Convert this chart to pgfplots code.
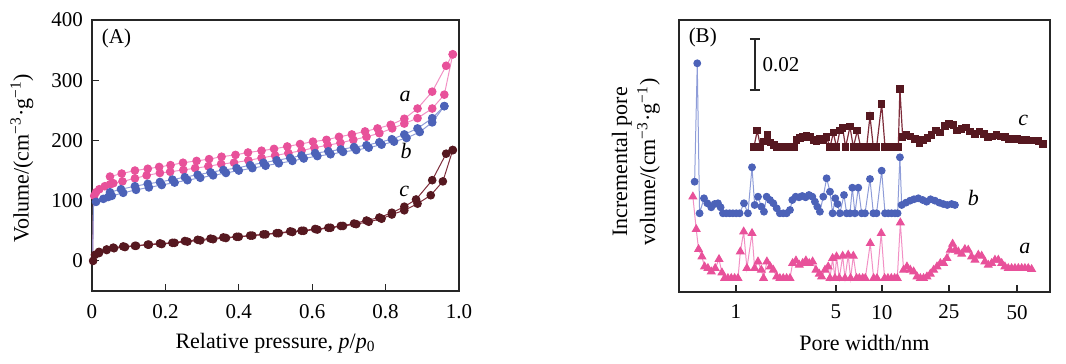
\documentclass[border=0pt]{standalone}
\usepackage{fontspec}
\setmainfont{Liberation Serif}
\usepackage{pgfplots}
\pgfplotsset{compat=1.18}
\definecolor{cA}{HTML}{E8519A}
\definecolor{cAl}{HTML}{F290C4}
\definecolor{cB}{HTML}{4C62B8}
\definecolor{cBl}{HTML}{8E9CD8}
\definecolor{cC}{HTML}{561820}
\definecolor{cCl}{HTML}{7E2C3A}
\begin{document}
\begin{tikzpicture}
\path[use as bounding box] (0,0) rectangle (533pt,182pt);
\pgfplotsset{every axis/.append style={scale only axis,
  font=\fontsize{10.5}{12}\selectfont,
  axis line style={line width=0.7pt, black!85},
  tick align=inside, tick pos=left, major tick length=3.5pt,
  tick style={line width=0.6pt, black!85},
  /pgf/number format/assume math mode=true,
  xticklabel style={yshift=-3pt},
  yticklabel style={xshift=-1pt},
  label style={font=\fontsize{11}{14}\selectfont}}}
% ---------------- Panel A ----------------
\begin{axis}[at={(46pt,36.5pt)}, anchor=south west, width=183.5pt, height=135.5pt,
  xmin=0, xmax=1, ymin=-50, ymax=400,
  xtick={0,0.2,0.4,0.6,0.8,1.0}, xticklabels={0,0.2,0.4,0.6,0.8,1.0},
  ytick={0,100,200,300,400},
  xlabel={Relative pressure, \textit{p}/\textit{p}\textsubscript{0}},
  ylabel={Volume/(cm\textsuperscript{−3}·g\textsuperscript{−1})},
  xlabel style={at={(axis description cs:0.5,-0.192)}, anchor=center},
  ylabel style={at={(axis description cs:-0.191,0.49)}, anchor=center}]
% low-pressure uptake (line only)
\addplot[cAl, line width=0.5pt] coordinates {(0.002,0) (0.003,60) (0.004,100) (0.006,108)};
\addplot[cBl, line width=0.5pt] coordinates {(0.002,0) (0.003,50) (0.004,90) (0.011,98)};
% a adsorption
\addplot[cAl, line width=0.5pt, mark=*, mark size=1.9pt, mark options={cA, fill=cA}] coordinates {
(0.006,108) (0.011,114) (0.02,119) (0.035,124) (0.049,127) (0.058,129) (0.083,132) (0.117,137) (0.149,142) (0.185,146) (0.213,148) (0.249,151) (0.281,154) (0.317,157) (0.352,161) (0.387,163) (0.426,167) (0.462,171) (0.499,175) (0.535,179) (0.571,183) (0.606,188) (0.642,192) (0.677,196) (0.712,201) (0.748,206) (0.783,212) (0.818,220) (0.851,228) (0.887,237) (0.927,253) (0.96,276) (0.983,343)};
% a desorption
\addplot[cAl, line width=0.5pt, mark=*, mark size=1.9pt, mark options={cA, fill=cA}] coordinates {
(0.049,140) (0.081,145) (0.117,150) (0.152,153) (0.183,156) (0.214,159) (0.248,163) (0.285,166) (0.319,169) (0.353,173) (0.391,176) (0.425,180) (0.462,183) (0.496,186) (0.532,190) (0.567,194) (0.602,198) (0.639,201) (0.673,206) (0.708,210) (0.744,215) (0.778,220) (0.814,226) (0.851,236) (0.887,253) (0.927,281) (0.965,324) (0.983,343)};
% b adsorption
\addplot[cBl, line width=0.5pt, mark=*, mark size=1.9pt, mark options={cB, fill=cB}] coordinates {
(0.011,98) (0.031,103) (0.044,106) (0.054,108) (0.085,113) (0.12,118) (0.155,122) (0.19,126) (0.225,130) (0.26,134) (0.295,138) (0.33,142) (0.365,146) (0.4,150) (0.437,154) (0.473,158) (0.509,162) (0.546,166) (0.577,170) (0.614,174) (0.65,177) (0.684,181) (0.72,184) (0.754,188) (0.789,193) (0.823,198) (0.857,204) (0.893,214) (0.927,230) (0.96,257)};
% b desorption
\addplot[cBl, line width=0.5pt, mark=*, mark size=1.9pt, mark options={cB, fill=cB}] coordinates {
(0.049,114) (0.079,119) (0.117,124) (0.152,128) (0.185,131) (0.219,135) (0.253,139) (0.288,143) (0.323,147) (0.358,151) (0.394,154) (0.431,159) (0.467,163) (0.503,167) (0.54,171) (0.571,175) (0.608,179) (0.644,182) (0.678,185) (0.714,189) (0.748,192) (0.783,197) (0.817,202) (0.851,210) (0.887,220) (0.927,237) (0.96,257)};
% c adsorption
\addplot[cCl, line width=0.5pt, mark=*, mark size=1.9pt, mark options={cC, fill=cC}] coordinates {
(0.003,0) (0.008,10) (0.019,15) (0.04,19) (0.06,21) (0.09,23) (0.12,25) (0.155,27) (0.19,28) (0.225,30) (0.26,32) (0.295,34) (0.33,36) (0.365,38) (0.4,40) (0.437,42) (0.473,44) (0.509,46) (0.546,48) (0.577,50) (0.614,52) (0.65,55) (0.684,58) (0.72,61) (0.754,65) (0.789,70) (0.817,77) (0.851,84) (0.887,95) (0.923,109) (0.956,132) (0.983,184)};
% c desorption
\addplot[cCl, line width=0.5pt, mark=*, mark size=1.9pt, mark options={cC, fill=cC}] coordinates {
(0.019,13) (0.04,18) (0.058,22) (0.085,24) (0.117,25) (0.152,27) (0.185,29) (0.219,30) (0.253,33) (0.288,35) (0.323,37) (0.358,39) (0.394,40) (0.431,42) (0.467,44) (0.503,46) (0.54,49) (0.571,50) (0.608,53) (0.644,55) (0.678,58) (0.714,62) (0.748,67) (0.783,72) (0.817,80) (0.851,90) (0.883,102) (0.927,134) (0.965,178) (0.983,184)};
\node[anchor=west, inner sep=0pt, font=\fontsize{10.5}{12}\selectfont] at (axis cs:0.026,370) {(A)};
\node[font=\fontsize{11}{12}\selectfont\itshape] at (axis cs:0.853,273) {a};
\node[font=\fontsize{11}{12}\selectfont\itshape] at (axis cs:0.856,182) {b};
\node[font=\fontsize{11}{12}\selectfont\itshape] at (axis cs:0.851,116) {c};
\end{axis}
% ---------------- Panel B ----------------
\begin{axis}[at={(339.5pt,36pt)}, anchor=south west, width=185.5pt, height=136pt,
  xmin=-0.39, xmax=2.151, ymin=0, ymax=272,
  xtick={0,0.685,1,1.459,1.925}, xticklabels={1,5,10,25,50},
  ytick=\empty,
  xlabel={Pore width/nm},
  ylabel={Incremental pore\\volume/(cm\textsuperscript{−3}·g\textsuperscript{−1})},
  xlabel style={at={(axis description cs:0.5,-0.1875)}, anchor=center},
  ylabel style={at={(axis description cs:-0.116,0.478)}, anchor=center, align=center}]
% a
\addplot[cAl, line width=0.5pt, mark=triangle*, mark size=2.2pt, mark options={cA, fill=cA}] coordinates {
(-0.295,95.3) (-0.272,62.7) (-0.256,42.7) (-0.233,35.3) (-0.215,25.3) (-0.192,23.7) (-0.169,20.3) (-0.142,23.7) (-0.116,32.7) (-0.096,19.3) (-0.078,13.7) (-0.055,13.7) (-0.032,13.7) (-0.009,13.7) (0.014,13.7) (0.030,40.3) (0.053,60.3) (0.075,23.7) (0.110,58.7) (0.128,23.7) (0.151,30.3) (0.174,22) (0.189,13.7) (0.212,30.3) (0.235,25.3) (0.256,22) (0.279,15.3) (0.301,13.7) (0.324,13.7) (0.347,13.7) (0.370,13.7) (0.388,28.7) (0.411,31.3) (0.434,27) (0.457,28.7) (0.479,31.3) (0.502,28.7) (0.525,30.3) (0.548,22) (0.571,18) (0.587,15.3) (0.610,22) (0.632,25.3) (0.644,13.7) (0.662,33.7) (0.678,13.7) (0.689,35.3) (0.708,13.7) (0.731,36) (0.747,13.7) (0.769,37) (0.785,13.7) (0.804,36) (0.826,13.7) (0.845,13.7) (0.868,13.7) (0.886,13.7) (0.920,48.7) (0.943,13.7) (0.966,13.7) (0.995,58.7) (1.018,13.7) (1.041,13.7) (1.064,13.7) (1.087,13.7) (1.105,13.7) (1.126,69.3) (1.148,22) (1.171,25.3) (1.194,22) (1.217,20.3) (1.240,15.3) (1.263,13.7) (1.285,13.7) (1.308,15.3) (1.331,18) (1.354,22) (1.377,25.3) (1.400,28.7) (1.422,28.7) (1.445,33.7) (1.468,42) (1.484,48) (1.502,42) (1.523,40.3) (1.546,38) (1.568,42.7) (1.591,42) (1.614,35.3) (1.637,32) (1.660,37) (1.683,36) (1.705,30.3) (1.728,27) (1.751,28.7) (1.774,32) (1.797,32) (1.820,28.7) (1.842,25.3) (1.865,23.7) (1.888,23.7) (1.911,23.7) (1.934,23.7) (1.957,23.7) (1.979,23.7) (2.002,23.7) (2.025,22.7)};
% b
\addplot[cBl, line width=0.5pt, mark=*, mark size=1.7pt, mark options={cB, fill=cB}] coordinates {
(-0.283,110.3) (-0.265,228.7) (-0.249,78.7) (-0.219,93.7) (-0.196,88.7) (-0.169,84.7) (-0.146,88) (-0.123,88.7) (-0.105,84.7) (-0.089,78.7) (-0.066,78.7) (-0.043,78.7) (-0.021,78.7) (0.002,78.7) (0.025,78.7) (0.055,88.7) (0.082,78.7) (0.110,124.7) (0.128,87) (0.151,95.3) (0.174,85.3) (0.192,80.3) (0.210,95.3) (0.233,92) (0.256,88.7) (0.279,83.7) (0.301,78.7) (0.324,78.7) (0.347,78.7) (0.370,82) (0.386,92) (0.409,95.3) (0.432,94.7) (0.454,96) (0.477,94.7) (0.500,97) (0.523,95.3) (0.541,90.3) (0.557,85.3) (0.575,80.3) (0.598,95.3) (0.621,113.7) (0.644,100.3) (0.662,78.7) (0.680,93.7) (0.696,88) (0.712,78.7) (0.740,97) (0.758,78.7) (0.781,78.7) (0.797,104.3) (0.815,78.7) (0.838,104.3) (0.861,78.7) (0.884,78.7) (0.918,113) (0.941,78.7) (0.963,78.7) (0.998,121.3) (1.021,78.7) (1.043,78.7) (1.066,78.7) (1.089,78.7) (1.107,78.7) (1.123,134.7) (1.135,87) (1.164,89.3) (1.192,91.3) (1.219,92.7) (1.249,93.7) (1.279,92) (1.306,90.3) (1.333,92.7) (1.363,91.3) (1.393,89.3) (1.420,88) (1.447,87) (1.477,88) (1.500,87)};
% c
\addplot[cCl, line width=0.6pt, mark=square*, mark size=1.6pt, mark options={cC, fill=cC}] coordinates {
(0.123,144.7) (0.146,161.3) (0.169,144.7) (0.192,150.3) (0.215,157) (0.237,149.3) (0.260,147) (0.283,144.7) (0.306,144.7) (0.329,144.7) (0.352,144.7) (0.374,144.7) (0.397,144.7) (0.416,152) (0.438,153.7) (0.461,154.7) (0.484,156) (0.507,154.7) (0.530,152) (0.553,150.3) (0.575,152.7) (0.598,152) (0.621,154.7) (0.644,144.7) (0.667,159.3) (0.689,144.7) (0.712,161.3) (0.731,163.7) (0.751,144.7) (0.781,165.3) (0.804,144.7) (0.831,161.3) (0.854,144.7) (0.877,144.7) (0.895,144.7) (0.918,176) (0.941,144.7) (0.963,144.7) (0.998,188) (1.021,144.7) (1.043,144.7) (1.066,144.7) (1.089,144.7) (1.112,144.7) (1.123,202.7) (1.142,154.7) (1.169,157) (1.196,155.3) (1.226,152.7) (1.256,148.7) (1.283,152) (1.311,153.7) (1.340,157) (1.370,161.3) (1.397,159.3) (1.432,166) (1.461,168) (1.489,167) (1.516,161.3) (1.546,162.7) (1.575,164.3) (1.603,160.3) (1.637,158) (1.667,160.3) (1.699,158) (1.728,154.7) (1.758,155.3) (1.785,157) (1.815,155.3) (1.842,154.7) (1.872,152.7) (1.900,152.7) (1.929,152.7) (1.957,152) (1.986,152) (2.014,151.3) (2.043,151.3) (2.071,150.7) (2.105,148)};
% scale bar
\draw[line width=0.7pt, black!85] (axis cs:0.130,202) -- (axis cs:0.130,253);
\draw[line width=0.7pt, black!85] (axis cs:0.096,202) -- (axis cs:0.164,202);
\draw[line width=0.7pt, black!85] (axis cs:0.096,253) -- (axis cs:0.164,253);
\node[anchor=west, inner sep=0pt, font=\fontsize{10.5}{12}\selectfont] at (axis cs:0.18,227) {0.02};
\node[anchor=west, inner sep=0pt, font=\fontsize{10.5}{12}\selectfont] at (axis cs:-0.326,255) {(B)};
\node[font=\fontsize{11}{12}\selectfont\itshape] at (axis cs:1.968,172) {c};
\node[font=\fontsize{11}{12}\selectfont\itshape] at (axis cs:1.626,93.7) {b};
\node[font=\fontsize{11}{12}\selectfont\itshape] at (axis cs:1.979,43.7) {a};
\end{axis}
\end{tikzpicture}
\end{document}
